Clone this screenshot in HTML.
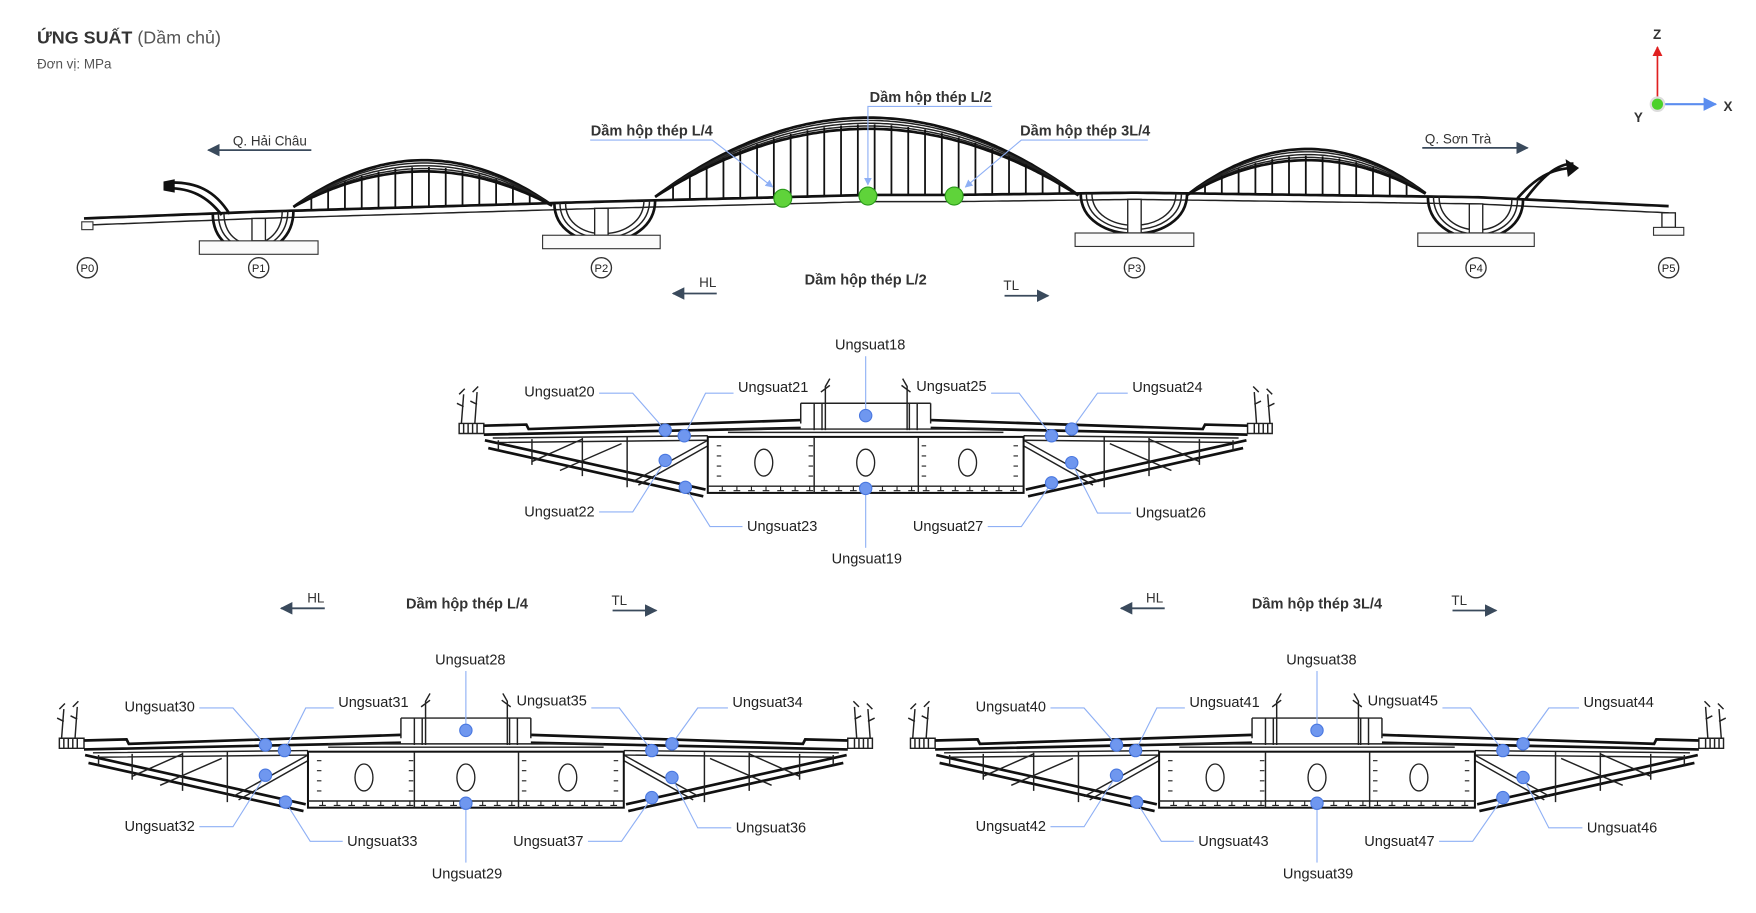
<!DOCTYPE html>
<html><head><meta charset="utf-8"><style>
html,body{margin:0;padding:0;background:#fff;}
svg{display:block;font-family:"Liberation Sans",sans-serif;}
.lbl{font-size:13px;fill:#222;}
.ld{stroke:#8fb0f5;stroke-width:1;fill:none;}
.dot{fill:#6f97ef;stroke:#4a78e0;stroke-width:1;}
.st{stroke:#222;fill:none;stroke-width:1.3;}
.th{stroke:#111;fill:none;stroke-width:2.4;}
.ar{stroke:#3a4a5c;stroke-width:1.6;fill:none;}
</style></head><body>
<svg id="svg" width="1756" height="913" viewBox="0 0 1568 815" preserveAspectRatio="none" xmlns="http://www.w3.org/2000/svg">
<defs>
<marker id="ah" viewBox="0 0 10 10" refX="9" refY="5" markerWidth="7" markerHeight="7" orient="auto-start-reverse"><path d="M0,0L10,5L0,10z" fill="#3a4a5c"/></marker>
<marker id="ahb" viewBox="0 0 10 10" refX="9" refY="5" markerWidth="7" markerHeight="7" orient="auto"><path d="M0,0L10,5L0,10z" fill="#8fb0f5"/></marker>
<marker id="ahr" viewBox="0 0 10 10" refX="9" refY="5" markerWidth="6" markerHeight="6" orient="auto"><path d="M0,0L10,5L0,10z" fill="#e02020"/></marker>
<marker id="ahx" viewBox="0 0 10 10" refX="9" refY="5" markerWidth="6" markerHeight="6" orient="auto"><path d="M0,0L10,5L0,10z" fill="#5b8def"/></marker>
</defs>

<g>
<text x="33" y="39" font-size="16" fill="#333"><tspan font-weight="bold">ỨNG SUẤT</tspan><tspan fill="#555"> (Dầm chủ)</tspan></text>
<text x="33" y="61" font-size="12" fill="#555">Đơn vị: MPa</text>
</g>

<g>
<line x1="1480" y1="93" x2="1480" y2="42" stroke="#e02020" stroke-width="1.5" marker-end="url(#ahr)"/>
<line x1="1480" y1="93" x2="1532" y2="93" stroke="#5b8def" stroke-width="2" marker-end="url(#ahx)"/>
<circle cx="1480" cy="93" r="6" fill="#4bd12a" stroke="#ddd" stroke-width="2"/>
<text x="1476" y="35" font-size="12" font-weight="bold" fill="#333">Z</text>
<text x="1539" y="99" font-size="12" font-weight="bold" fill="#333">X</text>
<text x="1459" y="109" font-size="12" font-weight="bold" fill="#333">Y</text>
</g>

<g id="bridge"></g>

<g>
<text x="241" y="130" font-size="12" text-anchor="middle" fill="#333">Q. Hải Châu</text>
<line class="ar" x1="278" y1="134" x2="186" y2="134" marker-end="url(#ah)"/>
<text x="1302" y="128" font-size="12" text-anchor="middle" fill="#333">Q. Sơn Trà</text>
<line class="ar" x1="1270" y1="132" x2="1364" y2="132" marker-end="url(#ah)"/>
<text x="582" y="121" font-size="13" font-weight="bold" text-anchor="middle" fill="#333">Dầm hộp thép L/4</text>
<polyline class="ld" points="527,125 636,125 690,167" stroke-width="1.4" marker-end="url(#ahb)"/>
<text x="831" y="91" font-size="13" font-weight="bold" text-anchor="middle" fill="#333">Dầm hộp thép L/2</text>
<polyline class="ld" points="886,95 775,95 775,165" stroke-width="1.4" marker-end="url(#ahb)"/>
<text x="969" y="121" font-size="13" font-weight="bold" text-anchor="middle" fill="#333">Dầm hộp thép 3L/4</text>
<polyline class="ld" points="1025,125 912,125 862,167" stroke-width="1.4" marker-end="url(#ahb)"/>
<circle cx="699" cy="177" r="8" fill="#5fd33a" stroke="#2a9a1a"/>
<circle cx="775" cy="175" r="8" fill="#5fd33a" stroke="#2a9a1a"/>
<circle cx="852" cy="175" r="8" fill="#5fd33a" stroke="#2a9a1a"/>
<text x="632" y="256" font-size="12" text-anchor="middle" fill="#333">HL</text>
<line class="ar" x1="640" y1="262" x2="601" y2="262" marker-end="url(#ah)"/>
<text x="773" y="254" font-size="13" font-weight="bold" text-anchor="middle" fill="#333">Dầm hộp thép L/2</text>
<text x="903" y="259" font-size="12" text-anchor="middle" fill="#333">TL</text>
<line class="ar" x1="897" y1="264" x2="936" y2="264" marker-end="url(#ah)"/>
</g>

<g>
<text x="282" y="538" font-size="12" text-anchor="middle" fill="#333">HL</text>
<line class="ar" x1="290" y1="543" x2="251" y2="543" marker-end="url(#ah)"/>
<text x="417" y="543" font-size="13" font-weight="bold" text-anchor="middle" fill="#333">Dầm hộp thép L/4</text>
<text x="553" y="540" font-size="12" text-anchor="middle" fill="#333">TL</text>
<line class="ar" x1="547" y1="545" x2="586" y2="545" marker-end="url(#ah)"/>
<text x="1031" y="538" font-size="12" text-anchor="middle" fill="#333">HL</text>
<line class="ar" x1="1040" y1="543" x2="1001" y2="543" marker-end="url(#ah)"/>
<text x="1176" y="543" font-size="13" font-weight="bold" text-anchor="middle" fill="#333">Dầm hộp thép 3L/4</text>
<text x="1303" y="540" font-size="12" text-anchor="middle" fill="#333">TL</text>
<line class="ar" x1="1297" y1="545" x2="1336" y2="545" marker-end="url(#ah)"/>
</g>

<g id="sec-main"></g>
<g id="sec-l4" transform="translate(-357,281)"></g>
<g id="sec-3l4" transform="translate(403,281)"></g>
</svg>
<script>
const NS="http://www.w3.org/2000/svg";
function mk(p,tag,attrs){const e=document.createElementNS(NS,tag);for(const k in attrs)e.setAttribute(k,attrs[k]);p.appendChild(e);return e;}

// ---------- bridge elevation ----------
const piers=["P0","P1","P2","P3","P4","P5"];
const pierX=[78,231,537,1013,1318,1490];
const archStart=[262,585,1060];
const archEnd=[495,965,1275];
const archPeak=[143,105,133];
const B=document.getElementById('bridge');
function deckY(x){
  const pts=[[75,195],[231,189],[537,180],[700,176],[775,174],[850,174],[1013,172],[1318,176],[1490,184]];
  for(let i=0;i<pts.length-1;i++){if(x<=pts[i+1][0]){const t=(x-pts[i][0])/(pts[i+1][0]-pts[i][0]);return pts[i][1]+t*(pts[i+1][1]-pts[i][1]);}}
  return 184;
}
let dp="",dp2="";
for(let x=75;x<=1490;x+=5){dp+=(x==75?"M":"L")+x+","+deckY(x).toFixed(1);dp2+=(x==75?"M":"L")+x+","+(deckY(x)+6).toFixed(1);}
let deck=mk(B,'path',{d:dp,class:'th'});


let deck2=mk(B,'path',{d:dp2,class:'st',stroke:'#444'});


for(let a=0;a<3;a++){
  const x0=archStart[a],x1=archEnd[a],c=(x0+x1)/2,w=(x1-x0)/2;
  const base=(deckY(x0)+deckY(x1))/2,h=base-archPeak[a];
  for(let k=0;k<5;k++){
    let p="";
    for(let x=x0;x<=x1;x+=3){const u=(x-c)/w;const y=base-(h-k*2.5)*(1-u*u);p+=(x==x0?"M":"L")+x+","+y.toFixed(1);}
    const arc=mk(B,'path',{d:p,class:k==0||k==4?'th':'st'});
    
    
  }
  for(let x=x0+16;x<x1-10;x+=15){
    const u=(x-c)/w;const y=base-(h-6)*(1-u*u);
    const hg=mk(B,'line',{x1:x,y1:y,x2:x,y2:deckY(x),stroke:'#111','stroke-width':1.6});
    
    
  }
}
const invL=[190,495,965,1275];const invR=[262,585,1060,1360];
for(let i=0;i<4;i++){
  const x0=invL[i],x1=invR[i];
  for(let k=0;k<3;k++){
    const d=`M${x0+k*5},${deckY(x0)} C${x0+k*5},${deckY(x0)+48-k*5} ${x1-k*5},${deckY(x1)+48-k*5} ${x1-k*5},${deckY(x1)}`;
    const iv=mk(B,'path',{d:d,class:k==0?'th':'st'});
    
    
  }
}
let hk=mk(B,'path',{d:'M198,192 C185,175 170,168 150,168 M205,191 C192,170 175,162 150,163',class:'th'});


let hk2=mk(B,'path',{d:'M1355,177 C1370,160 1385,150 1405,150 M1362,178 C1377,158 1390,146 1405,146',class:'th'});


mk(B,'path',{d:'M1398,142 L1410,150 L1400,158 z',fill:'#111'});
mk(B,'path',{d:'M146,162 L156,160 L156,172 L146,170z',fill:'#111'});
const footW=[10,106,105,106,104,27];
const footY=[198,215,210,208,208,203];
for(let i=0;i<piers.length;i++){
  const x=pierX[i],top=deckY(x)+6,fy=footY[i],fw=footW[i];
  const col=mk(B,'rect',{x:x-6,y:top,width:12,height:fy-top,fill:'#fff',stroke:'#222','stroke-width':1.2});
  
  
  const ft=mk(B,'rect',{x:x-fw/2,y:fy,width:fw,height:i==0||i==5?7:12,fill:'#fafafa',stroke:'#333','stroke-width':1});
  
  
  const cc=mk(B,'circle',{cx:x,cy:239,r:9,fill:'#fff',stroke:'#333','stroke-width':1.2});
  
  
  const t=mk(B,'text',{x:x,y:243,'font-size':10,'text-anchor':'middle',fill:'#222'});
  
  
  t.textContent=piers[i];
}

// ---------- cross-sections ----------
const mainIds=["Ungsuat20","Ungsuat21","Ungsuat22","Ungsuat23","Ungsuat18","Ungsuat19","Ungsuat25","Ungsuat24","Ungsuat26","Ungsuat27"];
const l4Ids=["Ungsuat30","Ungsuat31","Ungsuat32","Ungsuat33","Ungsuat28","Ungsuat29","Ungsuat35","Ungsuat34","Ungsuat36","Ungsuat37"];
const r4Ids=["Ungsuat40","Ungsuat41","Ungsuat42","Ungsuat43","Ungsuat38","Ungsuat39","Ungsuat45","Ungsuat44","Ungsuat46","Ungsuat47"];
const dotPos=[[594,384],[611,389],[594,411],[612,435],[773,371],[773,436],[939,389],[957,383],[957,413],[939,431]];
const txtPos=[[531,354,'end'],[659,350,'start'],[531,461,'end'],[667,474,'start'],[777,312,'middle'],[774,503,'middle'],[881,349,'end'],[1011,350,'start'],[1014,462,'start'],[878,474,'end']];
const leaders=[[[535,351],[565,351]],[[655,351],[630,351]],[[535,457],[565,457]],[[663,470],[634,470]],[[773,318]],[[773,489]],[[885,351],[910,351]],[[1007,351],[980,351]],[[1010,458],[980,458]],[[882,470],[912,470]]];

function drawHalf(g){
  const s=[
   'M412,378 L414,352 M424,378 L426,350 M410,352 l5,-5 M422,350 l5,-5 M408,360 l6,3 M420,358 l6,3',
   'M410,378 h22 v9 h-22 z M414,378 v9 M418,378 v9 M422,378 v9 M426,378 v9',
   'M432,380 L470,379 L472,383 L715,375 M432,388 L715,382',
   'M440,391 L632,389 M440,395 L632,393',
   'M433,393 L630,437 M436,400 L628,443',
   'M445,393 L445,402 M475,392 L475,415 M520,391 L520,425 M560,390 L560,435',
   'M475,412 L520,392 M500,420 L555,396 M565,430 L632,393 M570,433 L632,398',
   'M715,360 L773,360 M715,360 L715,378 M727,360 L727,384 M734,360 L734,384'
  ];
  s.forEach((d,i)=>{const p=mk(g,'path',{d:d,class:(i==4||i==2)?'th':'st'});
    
    });
}
function buildSection(g,ids){
  const L=mk(g,'g',{});
  drawHalf(L);
  const R=mk(g,'g',{transform:'translate(1546,0) scale(-1,1)'});
  drawHalf(R);
  const box=mk(g,'rect',{x:632,y:390,width:282,height:50,fill:'none',stroke:'#111','stroke-width':1.8});
  
  
  mk(g,'path',{d:'M632,434 H914 M727,390 V440 M820,390 V440 M650,383 H896 M650,386 H896',class:'st'});
  for(const cx of [682,773,864]){
    const o=mk(g,'ellipse',{cx:cx,cy:413,rx:8,ry:12,fill:'none',stroke:'#222','stroke-width':1.2});
    
    
  }
  let tk="";for(let x=645;x<910;x+=13){tk+=`M${x},434 v4 M${x-3},438 h6 `;}
  for(let y=398;y<432;y+=9){tk+=`M640,${y} h4 M722,${y} h4 M823,${y} h4 M905,${y} h4 `;}
  mk(g,'path',{d:tk,stroke:'#222','stroke-width':1,fill:'none'});
  mk(g,'path',{d:'M737,384 L737,345 L741,338 M810,384 L810,345 L806,338 M733,350 l8,-6 M813,350 l-8,-6',class:'st'});
  for(let i=0;i<ids.length;i++){
    const pts=leaders[i].concat([dotPos[i]]).map(p=>p.join(',')).join(' ');
    const ld=mk(g,'polyline',{points:pts,class:'ld'});
    
    
    const c=mk(g,'circle',{cx:dotPos[i][0],cy:dotPos[i][1],r:5.5,class:'dot'});
    
    
    const t=mk(g,'text',{x:txtPos[i][0],y:txtPos[i][1],'text-anchor':txtPos[i][2],class:'lbl'});
    
    
    t.textContent=ids[i];
  }
}
buildSection(document.getElementById('sec-main'),mainIds);
buildSection(document.getElementById('sec-l4'),l4Ids);
buildSection(document.getElementById('sec-3l4'),r4Ids);
</script>
</body></html>
